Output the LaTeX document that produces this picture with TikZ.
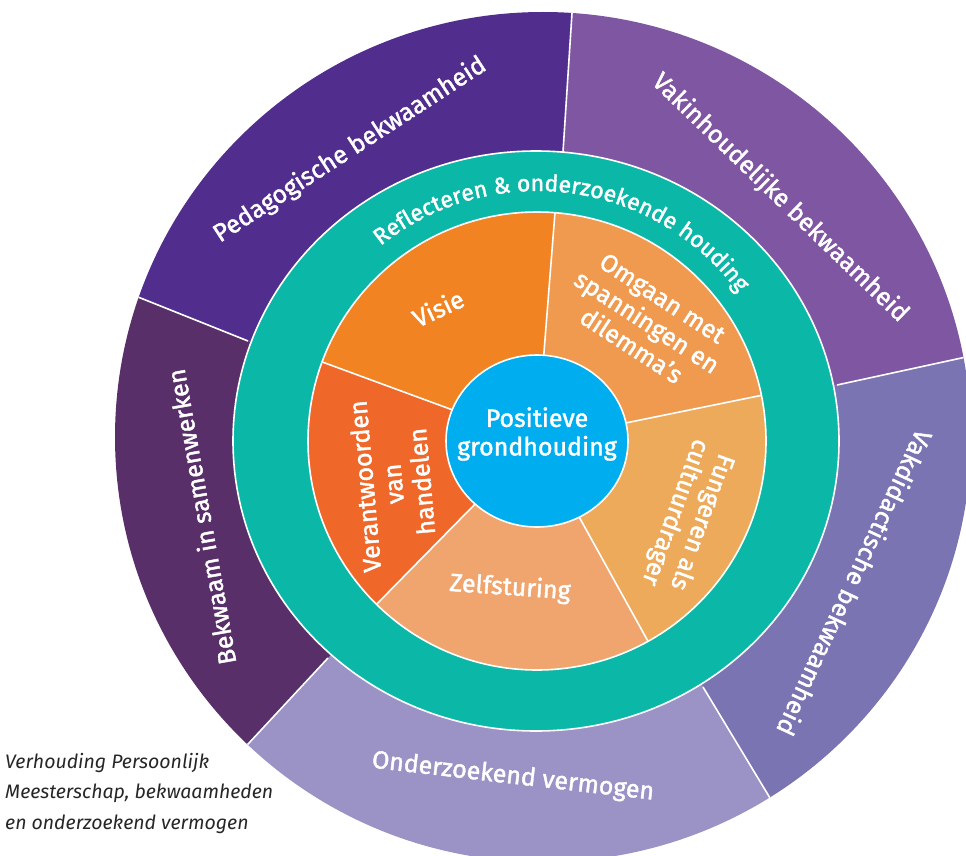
\documentclass[tikz,border=0pt]{standalone}
\usepackage{fontspec}
\setmainfont{Fira Sans}
\newfontfamily\medfont[FakeBold=1.6]{Fira Sans}
\usetikzlibrary{calc,shapes.geometric,decorations.text}
\definecolor{pedag}{RGB}{81,45,142}
\definecolor{vakinh}{RGB}{127,86,162}
\definecolor{vakdid}{RGB}{122,116,178}
\definecolor{onderz}{RGB}{155,146,197}
\definecolor{samenw}{RGB}{88,47,104}
\definecolor{reflect}{RGB}{11,184,168}
\definecolor{visie}{RGB}{242,131,34}
\definecolor{omgaan}{RGB}{240,154,80}
\definecolor{fungeren}{RGB}{237,170,90}
\definecolor{zelf}{RGB}{240,165,110}
\definecolor{verant}{RGB}{239,104,42}
\definecolor{kern}{RGB}{0,174,239}
\tikzset{
  divider/.style={draw=white, line width=1.6pt},
  band/.style={text=white, inner sep=0pt, font=\medfont\fontsize{25}{28}\selectfont},
  seg/.style={text=white, align=center, inner sep=0pt, font=\medfont\fontsize{25}{28.5}\selectfont},
  core/.style={ellipse, fill=kern, draw=white, line width=1.6pt, minimum width=182pt, minimum height=172pt},
  note/.style={align=left, inner sep=0pt, text=black!85, font=\itshape\fontsize{19.5}{30.5}\selectfont}
}

\begin{document}
\begin{tikzpicture}[x=1pt, y=1pt]
  \useasboundingbox (0,0) rectangle (966,-856);
  \clip (0,0) rectangle (966,-856);
  \coordinate (c) at (537,-441);
  % where the dividers of the outer band meet the teal band and the rim
  \coordinate (p1) at (563,-152); \coordinate (q1) at (572,-13);
  \coordinate (p2) at (837,-385); \coordinate (q2) at (966,-357);
  \coordinate (p3) at (703,-687); \coordinate (q3) at (770,-798);
  \coordinate (p4) at (328,-658); \coordinate (q4) at (249,-743);
  \coordinate (p5) at (248,-341); \coordinate (q5) at (138,-297);
  \foreach \i in {1,...,5} \coordinate (f\i) at ($(p\i)!4!(q\i)$);

  % outer band
  \begin{scope}
    \clip (543,-437) ellipse [x radius=428, y radius=425];
    \fill[pedag] (c) -- (p5) -- (f5) -- (f1) -- (p1) -- cycle;
    \fill[vakinh] (c) -- (p1) -- (f1) -- (f2) -- (p2) -- cycle;
    \fill[vakdid] (c) -- (p2) -- (f2) -- (f3) -- (p3) -- cycle;
    \fill[onderz] (c) -- (p3) -- (f3) -- (f4) -- (p4) -- cycle;
    \fill[samenw] (c) -- (p4) -- (f4) -- (f5) -- (p5) -- cycle;
    \foreach \i in {1,...,5} \draw[divider] (p\i) -- (f\i);
  \end{scope}

  % teal band
  \fill[reflect, divider] (536,-441) ellipse [x radius=303, y radius=290];

  % inner segments
  \fill[visie] (c) -- ++(85.5:229) arc[start angle=85.5, end angle=159.8, radius=229] -- cycle;
  \fill[verant] (c) -- ++(159.8:229) arc[start angle=159.8, end angle=225.5, radius=229] -- cycle;
  \fill[zelf] (c) -- ++(225.5:229) arc[start angle=225.5, end angle=299, radius=229] -- cycle;
  \fill[fungeren] (c) -- ++(-61:229) arc[start angle=-61, end angle=11.5, radius=229] -- cycle;
  \fill[omgaan] (c) -- ++(11.5:229) arc[start angle=11.5, end angle=85.5, radius=229] -- cycle;
  \foreach \a in {85.5,159.8,225.5,299,11.5} \draw[divider] (c) -- ++(\a:229);
  \draw[divider] (c) circle[radius=229];

  \node[core] (kern) at (c) {};
  \node[seg] (kernlabel) at (537,-434) {Positieve\\grondhouding};

  \node[seg, rotate=25] (visielabel) at (438,-308) {Visie};
  \node[seg, rotate=-33] (omgaanlabel) at (647,-322) {Omgaan met\\spanningen en\\dilemma’s};
  \node[seg, rotate=-110] (fungerenlabel) at (688,-517) {Fungeren als\\cultuurdrager};
  \node[seg, rotate=-4] (zelflabel) at (510,-588) {Zelfsturing};
  \node[seg, rotate=95] (verantlabel) at (393,-484) {Verantwoorden\\van\\handelen};

  \path[decorate, decoration={text along path, text align=center,
      text={|\color{white}\medfont\fontsize{23}{23}\selectfont|Reflecteren {\&} onderzoekende houding}}]
    ($(c)+(142.5:250)$) arc[start angle=142.5, end angle=22.5, radius=250];

  \node[band, rotate=33] (pedaglabel) at (350,-150) {Pedagogische bekwaamheid};
  \node[band, rotate=-44] (vakinhlabel) at (780,-198) {Vakinhoudelijke bekwaamheid};
  \node[band, rotate=-115] (vakdidlabel) at (855,-583) {Vakdidactische bekwaamheid};
  \node[band, rotate=-6.5] (onderzlabel) at (513,-777) {Onderzoekend vermogen};
  \node[band, rotate=100] (samenwlabel) at (201,-517) {Bekwaam in samenwerken};

  \node[note, anchor=north west] (caption) at (5,-753) {Verhouding Persoonlijk\\Meesterschap, bekwaamheden\\en onderzoekend vermogen};
\end{tikzpicture}
\end{document}
